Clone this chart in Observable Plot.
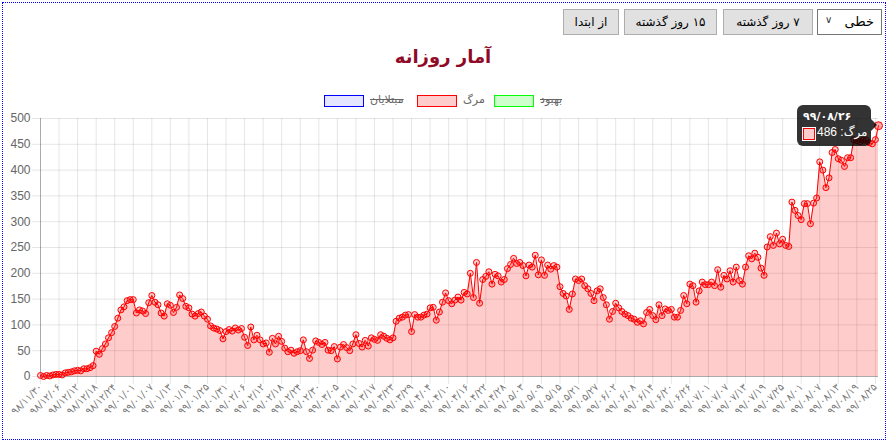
<!DOCTYPE html>
<html><head><meta charset="utf-8">
<script src="https://cdn.jsdelivr.net/npm/d3@7"></script>
<script src="https://cdn.jsdelivr.net/npm/@observablehq/plot@0.6"></script>
<style>
html,body{margin:0;padding:0;background:#fff;}
body{width:889px;height:444px;overflow:hidden;position:relative;font-family:"DejaVu Sans",sans-serif;}
#frame{position:absolute;left:2px;top:2px;width:882px;height:436px;border:1px dotted #0000ff;}
.btn{position:absolute;top:9px;height:24px;background:#e1e1e1;border:1px solid #adadad;font-size:12px;color:#000;display:flex;align-items:center;justify-content:center;direction:rtl;white-space:nowrap;}
#sel{position:absolute;left:817px;top:9px;width:63px;height:24px;background:#fff;border:1px solid #767676;font-size:13px;direction:rtl;}
#sel .t{position:absolute;right:7px;top:4px;}
#sel .c{position:absolute;left:7px;top:4px;font-size:10px;color:#333;}
#title{position:absolute;left:0;width:886px;top:46px;text-align:center;font-weight:bold;font-size:18px;color:#900a28;direction:rtl;}
.lbox{position:absolute;top:95px;width:38px;height:10px;border:1px solid;}
.ltxt{position:absolute;top:93px;font-size:11px;color:#666;direction:rtl;white-space:nowrap;}
#chart{position:absolute;left:0;top:110px;}
#tip{position:absolute;background:rgba(0,0,0,0.8);border-radius:6px;color:#fff;}
#tip .tt{position:absolute;left:6px;top:5px;font-weight:bold;font-size:11px;}
#tip .sw{position:absolute;left:6px;top:23px;width:10px;height:10px;background:#ffcccc;border:1px solid #ff0000;outline:1px solid #fff;}
#tip .bt{position:absolute;left:20px;top:20px;font-size:12px;direction:rtl;white-space:nowrap;font-family:"Liberation Sans","DejaVu Sans",sans-serif;}
#caret{position:absolute;width:0;height:0;border-top:6px solid transparent;border-bottom:6px solid transparent;border-left:6px solid rgba(0,0,0,0.8);}
</style></head><body>
<div id="frame"></div>
<div id="sel"><span class="t">خطی</span><span class="c">&#8744;</span></div>
<div class="btn" style="left:723px;width:88px;">۷ روز گذشته</div>
<div class="btn" style="left:624px;width:91px;">۱۵ روز گذشته</div>
<div class="btn" style="left:563px;width:54px;">از ابتدا</div>
<div id="title">آمار روزانه</div>
<div id="legend"></div>
<div id="chart"></div>
<div id="tip"><div class="tt"></div><div class="sw"></div><div class="bt"></div></div>
<div id="caret"></div>
<script>
// Daily deaths, grouped by Persian (Solar Hijri) month
const bahman98 = [2];
const esfand98 = [0,2,1,3,4,4,3,7,8,9,11,12,11,15,15,17,21,49,43,54,63,75,85,97,113,129,135,147,149];
const farvardin99 = [149,123,129,127,122,143,157,144,139,123,117,141,138,124,134,158,151,136,133,121,117,122,125,117,111,98,94,92,89,73,87];
const ordibehesht99 = [91,88,94,90,93,76,60,96,71,80,71,63,65,47,74,63,78,68,55,48,51,45,48,50,71,48,35,51,69,66,62];
const khordad99 = [66,51,50,58,34,57,62,56,50,63,81,64,57,70,59,75,72,70,81,78,74,71,75,107,113,115,119,120,87,120,115];
const tir99 = [115,119,121,133,134,109,125,144,162,147,141,148,154,148,163,160,200,153,221,142,188,194,203,179,198,195,183,188,209,217,229];
const mordad99 = [219,221,215,195,216,212,235,197,226,196,216,208,215,212,174,161,156,130,160,189,186,189,176,170,161,147,166,170,153,139,111];
const shahrivar99 = [126,142,133,126,121,118,113,111,105,108,102,124,130,118,110,139,118,131,128,130,115,115,128,157,141,179,176,144,166,183,178];
const mehr99 = [178,183,176,207,173,196,189,205,183,212,186,179,212,234,228,239,231,210,196,251,271,254,278,257,266,254,252,338,322,312];
const aban99 = [304,335,335,296,336,346,416,400,366,385,434,440,422,419,407,424,424,459,457,455,458,458,453,451,459,486];

const tickLabels = ["98/11/30","98/12/06","98/12/12","98/12/18","98/12/24","99/01/01","99/01/07","99/01/13","99/01/19","99/01/25","99/01/31","99/02/06","99/02/12","99/02/18","99/02/24","99/02/30","99/03/05","99/03/11","99/03/17","99/03/23","99/03/29","99/04/04","99/04/10","99/04/16","99/04/22","99/04/28","99/05/03","99/05/09","99/05/15","99/05/21","99/05/27","99/06/02","99/06/08","99/06/14","99/06/20","99/06/26","99/07/01","99/07/07","99/07/13","99/07/19","99/07/25","99/08/01","99/08/07","99/08/13","99/08/19","99/08/25"];
const tickStep = 6;
const lastDate = "99/08/26";
const yTicks = [0,50,100,150,200,250,300,350,400,450,500];

const legendItems = [
  {label:"مبتلایان", border:"#0000ff", fill:"rgba(0,0,255,0.1)", hidden:true},
  {label:"مرگ", border:"#ff0000", fill:"rgba(255,0,0,0.2)", hidden:false},
  {label:"بهبود", border:"#00ff00", fill:"rgba(0,255,0,0.2)", hidden:true}
];

const values = [].concat(bahman98, esfand98, farvardin99, ordibehesht99, khordad99, tir99, mordad99, shahrivar99, mehr99, aban99);
const data = values.map((v, i) => ({i, v}));
const last = data[data.length - 1];
const tickIdx = tickLabels.map((_, k) => k * tickStep);
const fa = s => s.replace(/\d/g, c => "۰۱۲۳۴۵۶۷۸۹"[+c]);

const chart = Plot.plot({
  width: 889, height: 320,
  marginLeft: 40, marginRight: 11, marginTop: 8, marginBottom: 54,
  style: {fontFamily: "'Liberation Sans', Arial, sans-serif", fontSize: "12px", color: "#666", background: "transparent", overflow: "visible"},
  x: {domain: [0, values.length - 1]},
  y: {domain: [0, 500]},
  marks: [
    Plot.gridX({ticks: tickIdx, stroke: "#000", strokeOpacity: 0.1}),
    Plot.gridY({ticks: yTicks, stroke: "#000", strokeOpacity: 0.1}),
    Plot.areaY(data, {x: "i", y: "v", fill: "rgba(255,0,0,0.2)"}),
    Plot.ruleY([0], {stroke: "#000", strokeOpacity: 0.25}),
    Plot.ruleX([0], {stroke: "#000", strokeOpacity: 0.25}),
    Plot.axisY({ticks: yTicks, tickSize: 8, tickPadding: 2, label: null, fill: "#666", stroke: "#000", strokeOpacity: 0.1, fontSize: 12}),
    Plot.axisX({ticks: tickIdx, tickFormat: i => fa(tickLabels[Math.round(i / tickStep)]), tickRotate: -45, tickSize: 8, tickPadding: 1, label: null, fill: "#777", stroke: "#000", strokeOpacity: 0.1, fontSize: 10, fontFamily: "DejaVu Sans"}),
    Plot.lineY(data, {x: "i", y: "v", stroke: "#ff0000", strokeWidth: 1}),
    Plot.dot(data.slice(0, -1), {x: "i", y: "v", r: 3, stroke: "#ff0000", fill: "rgba(255,0,0,0.2)", strokeWidth: 1}),
    Plot.dot([last], {x: "i", y: "v", r: 4, stroke: "#ff0000", fill: "rgba(255,0,0,0.35)", strokeWidth: 1})
  ]
});
document.getElementById("chart").appendChild(chart);

// legend
const legend = document.getElementById("legend");
const boxLefts = [324, 417, 494];
const txtLefts = [370, 463, 540];
legendItems.forEach((it, k) => {
  const b = document.createElement("div");
  b.className = "lbox";
  b.style.left = boxLefts[k] + "px";
  b.style.borderColor = it.border;
  b.style.background = it.fill;
  legend.appendChild(b);
  const t = document.createElement("div");
  t.className = "ltxt";
  t.style.left = txtLefts[k] + "px";
  t.textContent = it.label;
  if (it.hidden) t.style.textDecoration = "line-through";
  legend.appendChild(t);
});

// tooltip anchored to last point
const px = chart.scale("x").apply(last.i);
const py = chart.scale("y").apply(last.v) + 110;
const tip = document.getElementById("tip");
const tw = 74, th = 41;
tip.style.width = tw + "px"; tip.style.height = th + "px";
tip.style.left = (px - 7 - tw) + "px";
tip.style.top = (py - th / 2) + "px";
tip.querySelector(".tt").textContent = fa(lastDate);
tip.querySelector(".bt").textContent = "مرگ: " + last.v;
const caret = document.getElementById("caret");
caret.style.left = (px - 7) + "px";
caret.style.top = (py - 6) + "px";
</script>
</body></html>
